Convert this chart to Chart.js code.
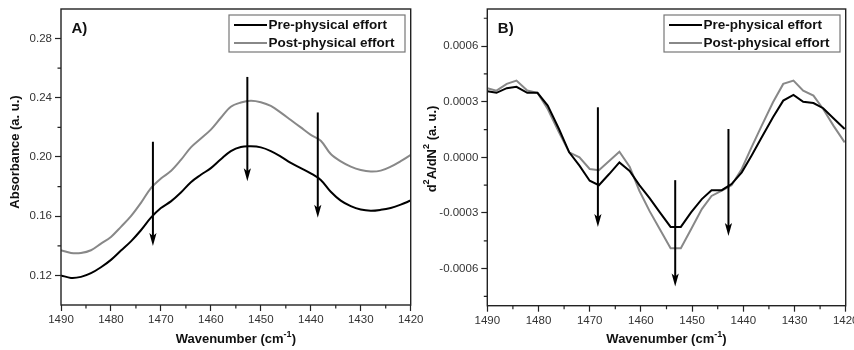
<!DOCTYPE html>
<html>
<head>
<meta charset="utf-8">
<script src="https://cdn.jsdelivr.net/npm/chart.js@4.4.1/dist/chart.umd.min.js"></script>
<style>
  body { margin: 0; background: #fff; width: 854px; height: 350px; overflow: hidden; position: relative; }
  #chartA { position: absolute; left: 0; top: 0; }
  #chartB { position: absolute; left: 418px; top: 0; }
</style>
</head>
<body>
<canvas id="chartA" width="430" height="350"></canvas>
<canvas id="chartB" width="436" height="350"></canvas>
<script>
// ---- panel A: absorbance spectra ----
const wavA = [1490,1488,1486,1484,1482,1480,1478,1476,1474,1472,1470,1468,1466,1464,1462,1460,1458,1456,
              1454,1452,1450,1448,1446,1444,1442,1440,1438,1436,1434,1432,1430,1428,1426,1424,1422,1420];
const preA = [0.1200,0.1183,0.1190,0.1215,0.1255,0.1305,0.1368,0.1430,0.1505,0.1590,0.1655,0.1700,0.1760,0.1830,
              0.1880,0.1925,0.1985,0.2040,0.2068,0.2072,0.2065,0.2040,0.2003,0.1960,0.1925,0.1890,0.1845,0.1765,
              0.1705,0.1668,0.1645,0.1637,0.1643,0.1656,0.1678,0.1706];
const postA = [0.1370,0.1352,0.1352,0.1370,0.1415,0.1460,0.1528,0.1600,0.1690,0.1790,0.1855,0.1905,0.1980,0.2065,
               0.2125,0.2185,0.2265,0.2340,0.2368,0.2380,0.2370,0.2345,0.2300,0.2250,0.2200,0.2150,0.2110,0.2020,
               0.1970,0.1935,0.1912,0.1902,0.1908,0.1935,0.1972,0.2014];

// ---- panel B: second derivative ----
const wavB = [1490.0,1488.2,1486.2,1484.3,1482.2,1480.2,1478.2,1476.0,1474.0,1472.0,1470.0,1468.2,1466.2,1464.2,
              1462.2,1460.3,1458.3,1456.3,1454.2,1452.2,1450.2,1448.1,1446.2,1444.2,1442.3,1440.3,1438.4,1436.4,
              1434.2,1432.2,1430.2,1428.3,1426.3,1424.4,1422.4,1420.2];
const preB = [0.000357,0.000348,0.000373,0.000380,0.000348,0.000348,0.000279,0.000153,0.000027,-0.000045,-0.000126,
              -0.000150,-0.000090,-0.000027,-0.000073,-0.000150,-0.000220,-0.000297,-0.000375,-0.000375,-0.000297,
              -0.000225,-0.000177,-0.000177,-0.000144,-0.000081,0.000009,0.000108,0.000216,0.000306,0.000337,
              0.000300,0.000293,0.000265,0.000211,0.000153];
const postB = [0.000373,0.000360,0.000396,0.000414,0.000360,0.000348,0.000261,0.000135,0.000027,0.000000,-0.000063,
               -0.000069,-0.000020,0.000030,-0.000050,-0.000180,-0.000290,-0.000388,-0.000490,-0.000490,-0.000388,
               -0.000279,-0.000208,-0.000180,-0.000150,-0.000063,0.000054,0.000171,0.000297,0.000396,0.000414,
               0.000360,0.000333,0.000261,0.000171,0.000081];

// ticks
const xTicks = [1490,1485,1480,1475,1470,1465,1460,1455,1450,1445,1440,1435,1430,1425,1420];
const yTicksA = [0.12,0.14,0.16,0.18,0.20,0.22,0.24,0.26,0.28];
const yTicksB = [-0.00075,-0.0006,-0.00045,-0.0003,-0.00015,0,0.00015,0.0003,0.00045,0.0006,0.00075];

// arrows (wavenumber, start value, tip value)
const arrowXA = [1471.6, 1452.7, 1438.6];
const arrowTopA = [0.2103, 0.2541, 0.2301];
const arrowTipA = [0.1398, 0.1836, 0.1589];
const arrowXB = [1468.4, 1453.3, 1442.9];
const arrowTopB = [0.000270, -0.000123, 0.000153];
const arrowTipB = [-0.000376, -0.000697, -0.000424];

const seriesNames = ['Pre-physical effort', 'Post-physical effort'];
const seriesColors = ['#000000', '#888888'];

const FONT = '"Liberation Sans", Arial, sans-serif';
const panels = {}; // per-canvas settings, kept out of chart options (functions there get resolved)

function richWidth(ctx, parts, size) {
  let w = 0;
  parts.forEach(p => {
    ctx.font = 'bold ' + (p[1] ? size * 0.7 : size) + 'px ' + FONT;
    w += ctx.measureText(p[0]).width;
  });
  return w;
}
function drawRich(ctx, parts, size, cx, cy, rot) {
  ctx.save();
  ctx.translate(cx, cy);
  if (rot) ctx.rotate(-Math.PI / 2);
  ctx.textBaseline = 'alphabetic';
  ctx.textAlign = 'left';
  ctx.fillStyle = '#111';
  let x = -richWidth(ctx, parts, size) / 2;
  parts.forEach(p => {
    ctx.font = 'bold ' + (p[1] ? size * 0.7 : size) + 'px ' + FONT;
    ctx.fillText(p[0], x, p[1] ? size * 0.35 - size * 0.5 : size * 0.35);
    x += ctx.measureText(p[0]).width;
  });
  ctx.restore();
}

const panelPlugin = {
  id: 'panelPlugin',
  afterDatasetsDraw(chart) {
    const o = panels[chart.canvas.id];
    const { ctx, chartArea: { left, right, top, bottom }, scales: { x, y } } = chart;
    ctx.save();
    // arrows
    ctx.fillStyle = '#000';
    ctx.strokeStyle = '#000';
    ctx.lineWidth = 2;
    o.arrowX.forEach((ax, i) => {
      const px = x.getPixelForValue(ax);
      const y1 = y.getPixelForValue(o.arrowTop[i]);
      const y2 = y.getPixelForValue(o.arrowTip[i]);
      ctx.beginPath();
      ctx.moveTo(px, y1);
      ctx.lineTo(px, y2 - 9);
      ctx.stroke();
      ctx.beginPath();
      ctx.moveTo(px, y2);
      ctx.lineTo(px - 3.6, y2 - 13);
      ctx.lineTo(px, y2 - 10);
      ctx.lineTo(px + 3.6, y2 - 13);
      ctx.closePath();
      ctx.fill();
    });
    // frame
    ctx.strokeStyle = '#222';
    ctx.lineWidth = 1.4;
    ctx.strokeRect(left, top, right - left, bottom - top);
    // minor ticks
    ctx.lineWidth = 1.2;
    ctx.beginPath();
    x.ticks.forEach(t => {
      if (t.value % 10 !== 0) {
        const px = x.getPixelForValue(t.value);
        ctx.moveTo(px, bottom); ctx.lineTo(px, bottom + 3.5);
      }
    });
    y.ticks.forEach(t => {
      if (!o.yMajor(t.value)) {
        const py = y.getPixelForValue(t.value);
        ctx.moveTo(left, py); ctx.lineTo(left - 3.5, py);
      }
    });
    ctx.stroke();
    // legend box
    const bw = 176, bh = 37;
    const bx = right - 5.7 - bw, by = top + 6;
    ctx.strokeStyle = '#777';
    ctx.lineWidth = 1.2;
    ctx.strokeRect(bx, by, bw, bh);
    ctx.font = 'bold 13.5px ' + FONT;
    ctx.textBaseline = 'middle';
    ctx.textAlign = 'left';
    chart.data.datasets.forEach((ds, i) => {
      const ry = by + 10 + i * 18;
      ctx.strokeStyle = ds.borderColor;
      ctx.lineWidth = 2;
      ctx.beginPath();
      ctx.moveTo(bx + 5, ry); ctx.lineTo(bx + 38, ry);
      ctx.stroke();
      ctx.fillStyle = '#111';
      ctx.fillText(ds.label, bx + 39.5, ry + 0.5);
    });
    // panel letter
    ctx.font = 'bold 15px ' + FONT;
    ctx.textBaseline = 'alphabetic';
    ctx.fillStyle = '#111';
    ctx.fillText(o.letter, left + 10.5, 33);
    ctx.restore();
  },
  afterDraw(chart) {
    const o = panels[chart.canvas.id];
    const { ctx, chartArea: { left, right } } = chart;
    drawRich(ctx, [['Wavenumber (cm', 0], ['-1', 1], [')', 0]], 13, (left + right) / 2, 338.5, false);
    drawRich(ctx, o.yTitle, 13, o.yTitleX, o.yTitleY, true);
  }
};

function makeChart(id, p) {
  panels[id] = p;
  return new Chart(document.getElementById(id), {
    type: 'line',
    data: {
      datasets: [
        { label: seriesNames[0], data: p.wav.map((w, i) => ({ x: w, y: p.pre[i] })),
          borderColor: seriesColors[0], borderWidth: 2, pointRadius: 0, tension: p.tension },
        { label: seriesNames[1], data: p.wav.map((w, i) => ({ x: w, y: p.post[i] })),
          borderColor: seriesColors[1], borderWidth: 2, pointRadius: 0, tension: p.tension }
      ]
    },
    options: {
      responsive: false,
      animation: false,
      layout: { padding: { top: 9, right: p.padRight, left: 0, bottom: 0 } },
      scales: {
        x: {
          type: 'linear', reverse: true, min: 1420, max: 1490,
          afterBuildTicks: s => { s.ticks = xTicks.map(v => ({ value: v })); },
          afterFit: s => { s.height = p.xHeight; s.paddingLeft = 0; s.paddingRight = 0; },
          ticks: { autoSkip: false, maxRotation: 0, padding: 2, color: '#333',
                   font: { family: FONT, size: 11.5 },
                   callback: v => (v % 10 === 0 ? String(v) : '') },
          grid: { drawOnChartArea: false, tickLength: 6, tickWidth: 1.2,
                  tickColor: c => (c.tick && c.tick.value % 10 === 0 ? '#222' : 'rgba(0,0,0,0)') },
          border: { display: false }
        },
        y: {
          type: 'linear', min: p.yMin, max: p.yMax,
          afterBuildTicks: s => { s.ticks = p.yTicks.map(v => ({ value: v })); },
          afterFit: s => { s.width = p.yWidth; s.paddingTop = 0; s.paddingBottom = 0; },
          ticks: { autoSkip: false, padding: 3, color: '#333',
                   font: { family: FONT, size: 11.5 },
                   callback: v => (p.yMajor(v) ? p.yFmt(v) : '') },
          grid: { drawOnChartArea: false, tickLength: 6, tickWidth: 1.2,
                  tickColor: c => (c.tick && p.yMajor(c.tick.value) ? '#222' : 'rgba(0,0,0,0)') },
          border: { display: false }
        }
      },
      plugins: {
        legend: { display: false },
        tooltip: { enabled: false }
      }
    },
    plugins: [panelPlugin]
  });
}

const chartA = makeChart('chartA', {
  wav: wavA, pre: preA, post: postA, tension: 0.35,
  yMin: 0.10, yMax: 0.30, yTicks: yTicksA,
  yMajor: v => Math.abs((v - 0.12) / 0.04 - Math.round((v - 0.12) / 0.04)) < 1e-6,
  yFmt: v => v.toFixed(2),
  yWidth: 61, xHeight: 45, padRight: 19.3,
  letter: 'A)', yTitle: [['Absorbance (a. u.)', 0]], yTitleX: 14, yTitleY: 152,
  arrowX: arrowXA, arrowTop: arrowTopA, arrowTip: arrowTipA
});

const chartB = makeChart('chartB', {
  wav: wavB, pre: preB, post: postB, tension: 0,
  yMin: -0.0008, yMax: 0.0008, yTicks: yTicksB,
  yMajor: v => Math.abs(v / 0.0003 - Math.round(v / 0.0003)) < 1e-6,
  yFmt: v => (Math.abs(v) < 1e-9 ? '0.0000' : v.toFixed(4)),
  yWidth: 69.3, xHeight: 44.3, padRight: 8.3,
  letter: 'B)', yTitle: [['d', 0], ['2', 1], ['A/dN', 0], ['2', 1], [' (a. u.)', 0]], yTitleX: 13, yTitleY: 149,
  arrowX: arrowXB, arrowTop: arrowTopB, arrowTip: arrowTipB
});
</script>
</body>
</html>
